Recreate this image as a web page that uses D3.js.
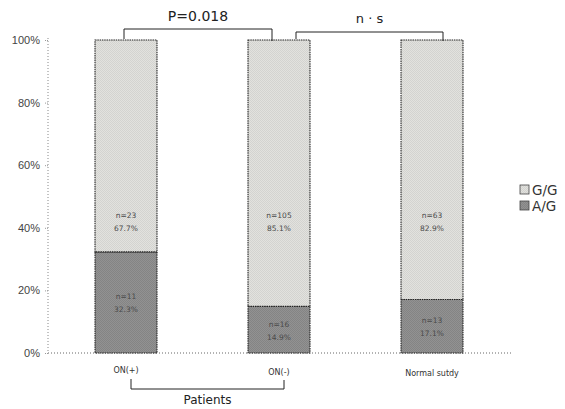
<!DOCTYPE html>
<html>
<head>
<meta charset="utf-8">
<script src="https://cdn.jsdelivr.net/npm/d3@7"></script>
<style>
  html, body { margin: 0; padding: 0; background: #fff; }
  svg { display: block; font-family: "DejaVu Sans", sans-serif; }
</style>
</head>
<body>
<svg id="chart" width="565" height="409"></svg>
<script>
// Genotype distribution per group (stacked to 100%)
const categories = ["ON(+)", "ON(-)", "Normal sutdy"];
const genotypes = ["A/G", "G/G"];
const agPct = [32.3, 14.9, 17.1];
const ggPct = [67.7, 85.1, 82.9];
const agN = [11, 16, 13];
const ggN = [23, 105, 63];
const yTicks = [0, 20, 40, 60, 80, 100];

const rows = categories.map((c, i) => ({
  cat: c, "A/G": agPct[i], "G/G": ggPct[i], nAG: agN[i], nGG: ggN[i]
}));

const svg = d3.select("#chart");
const defs = svg.append("defs");

// grainy halftone-like fills
function texture(id, base, dot) {
  const p = defs.append("pattern").attr("id", id)
    .attr("patternUnits", "userSpaceOnUse").attr("width", 2).attr("height", 2);
  p.append("rect").attr("width", 2).attr("height", 2).attr("fill", base);
  p.append("rect").attr("width", 1).attr("height", 1).attr("fill", dot);
  p.append("rect").attr("x", 1).attr("y", 1).attr("width", 1).attr("height", 1).attr("fill", dot);
}
texture("texLight", "#e2e2de", "#d3d3d0");
texture("texDark", "#929292", "#848484");
const fills = { "G/G": "url(#texLight)", "A/G": "url(#texDark)" };

const x = d3.scaleBand().domain(categories).range([49.5, 508.5])
  .paddingInner(0.595).paddingOuter(0.2975);
const y = d3.scaleLinear().domain([0, 100]).range([353, 40]);

// y axis
const yAxis = d3.axisLeft(y).tickValues(yTicks).tickFormat(d => d + "%").tickSize(3).tickPadding(5);
const gy = svg.append("g").attr("transform", "translate(48,0)").call(yAxis);
gy.select(".domain").remove();
gy.selectAll(".tick line").attr("stroke", "#999").attr("stroke-dasharray", "1,1");
gy.selectAll(".tick text").attr("fill", "#444").attr("font-size", 11);
svg.append("line").attr("x1", 48).attr("x2", 48).attr("y1", y(100) - 2).attr("y2", y(0))
  .attr("stroke", "#888").attr("stroke-dasharray", "1,2");
svg.append("line").attr("x1", 48).attr("x2", 512).attr("y1", y(0)).attr("y2", y(0))
  .attr("stroke", "#666").attr("stroke-dasharray", "1,2");

// stacked bars
const stack = d3.stack().keys(genotypes)(rows);
const layers = svg.append("g").selectAll("g").data(stack).join("g");
layers.selectAll("rect").data(s => s.map(d => ({ key: s.key, d })))
  .join("rect")
  .attr("x", o => x(o.d.data.cat))
  .attr("width", x.bandwidth())
  .attr("y", o => y(o.d[1]))
  .attr("height", o => y(o.d[0]) - y(o.d[1]))
  .attr("fill", o => fills[o.key])
  .attr("stroke", "#222").attr("stroke-width", 1.1).attr("stroke-dasharray", "1.5,0.8");

// value labels
const lab = svg.append("g").attr("font-size", 7.5).attr("fill", "#4a4a4a").attr("text-anchor", "middle");
rows.forEach(r => {
  const cx = x(r.cat) + x.bandwidth() / 2;
  const yg = y(42);
  lab.append("text").attr("x", cx).attr("y", yg - 4).text("n=" + r.nGG);
  lab.append("text").attr("x", cx).attr("y", yg + 9).text(r["G/G"] + "%");
  const ya = y(r["A/G"] / 2);
  lab.append("text").attr("x", cx).attr("y", ya - 3).text("n=" + r.nAG);
  lab.append("text").attr("x", cx).attr("y", ya + 10).text(r["A/G"] + "%");
});

// category labels
svg.append("g").selectAll("text").data(categories).join("text")
  .attr("x", d => x(d) + x.bandwidth() / 2)
  .attr("y", (d, i) => 373 + i * 1.5)
  .attr("text-anchor", "middle").attr("font-size", 8).attr("fill", "#333")
  .text(d => d);

// significance brackets
const cx = c => x(c) + x.bandwidth() / 2;
function bracket(a, b, yTop, dxa, dxb, label, ty, fs) {
  const x1 = cx(a) + dxa, x2 = cx(b) + dxb;
  svg.append("path")
    .attr("d", `M${x1},${y(100) - 1}V${yTop}H${x2}V${y(100) + 1}`)
    .attr("fill", "none").attr("stroke", "#222").attr("stroke-width", 1);
  svg.append("text").attr("x", (x1 + x2) / 2).attr("y", ty)
    .attr("text-anchor", "middle").attr("font-size", fs).attr("fill", "#222").text(label);
}
bracket(categories[0], categories[1], 29, -2, -7, "P=0.018", 21, 14);
bracket(categories[1], categories[2], 32, 17, 11, "n · s", 23, 13);

// Patients grouping bracket
const px1 = cx(categories[0]) + 5, px2 = cx(categories[1]) + 5;
svg.append("path").attr("d", `M${px1},379V389H${px2}V380`)
  .attr("fill", "none").attr("stroke", "#222").attr("stroke-width", 1);
svg.append("text").attr("x", (px1 + px2) / 2).attr("y", 404)
  .attr("text-anchor", "middle").attr("font-size", 12).attr("fill", "#222").text("Patients");

// legend
const leg = svg.append("g").attr("transform", "translate(520,185)");
["G/G", "A/G"].forEach((k, i) => {
  const g = leg.append("g").attr("transform", `translate(0,${i * 16})`);
  g.append("rect").attr("width", 9).attr("height", 9).attr("fill", fills[k])
    .attr("stroke", "#444").attr("stroke-width", 0.8);
  g.append("text").attr("x", 12).attr("y", 9.5).attr("font-size", 13.5).attr("fill", "#333").text(k);
});
</script>
</body>
</html>
